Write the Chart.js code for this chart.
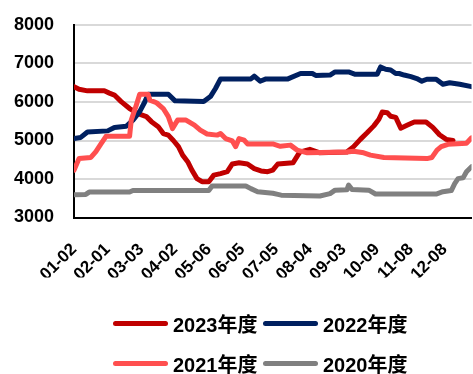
<!DOCTYPE html>
<html lang="zh">
<head>
    <meta charset="UTF-8">
    <title>年度价格对比</title>
    <style>
        body {
            margin: 0;
            background: white;
            font-family: "Liberation Sans", "Noto Sans CJK SC", sans-serif;
        }
        .wrap {
            position: relative;
            width: 473px;
            height: 374px;
        }
        .legend-item {
            position: absolute;
            height: 24px;
            display: flex;
            align-items: center;
            font-weight: bold;
            font-size: 20px;
            color: black;
            white-space: nowrap;
        }
        .legend-item span {
            display: inline-block;
            width: 55px;
            height: 5px;
            border-radius: 3px;
            margin-right: 5px;
        }
    </style>
    <script src="https://cdn.jsdelivr.net/npm/chart.js"></script>
</head>
<body>
    <div class="wrap">
        <canvas id="priceChart" width="473" height="374"></canvas>
        <div class="legend-item" style="left:113px; top:311px;"><span style="background:#C00000"></span>2023年度</div>
        <div class="legend-item" style="left:263px; top:311px;"><span style="background:#002060"></span>2022年度</div>
        <div class="legend-item" style="left:113px; top:351px;"><span style="background:#FF4F4F"></span>2021年度</div>
        <div class="legend-item" style="left:263px; top:351px;"><span style="background:#808080"></span>2020年度</div>
    </div>
    <script>
        // x = trading day of the year, labels every 20 trading days
        var tickLabels = ['01-02', '02-01', '03-03', '04-02', '05-06', '06-05',
                          '07-05', '08-04', '09-03', '10-09', '11-08', '12-08'];
        var tickDays = [0, 20, 40, 60, 80, 100, 120, 140, 160, 180, 200, 220];

        var y2023 = [[0, 6400], [3, 6330], [8, 6290], [18, 6290], [21, 6230], [24, 6180],
                     [28, 6010], [33, 5830], [38, 5700], [43, 5620], [46, 5490], [50, 5360],
                     [53, 5180], [56, 5140], [59, 5000], [62, 4840], [64.5, 4620], [67.5, 4450],
                     [70, 4230], [73, 4010], [76, 3930], [80, 3930], [83, 4100], [87, 4140],
                     [91, 4190], [94, 4390], [98, 4420], [103, 4390], [107, 4270], [111, 4210],
                     [115, 4190], [118, 4230], [121, 4390], [130, 4420], [134, 4700], [140, 4770],
                     [146, 4680], [162, 4700], [166, 4840], [170, 5030], [174, 5200], [178, 5380],
                     [181, 5550], [183, 5740], [186, 5720], [188, 5630], [191, 5600], [194, 5320],
                     [198, 5400], [202, 5480], [209, 5480], [213, 5340], [217, 5150], [221, 5030],
                     [225, 5000]];

        var y2022 = [[0, 5050], [4, 5080], [8, 5220], [20, 5250], [24, 5340], [31, 5370],
                     [35, 5530], [39, 5750], [42, 6000], [44, 6200], [56, 6200], [60, 6030],
                     [77, 6010], [81, 6140], [84, 6350], [87, 6600], [105, 6600], [107, 6670],
                     [110.5, 6540], [114, 6600], [127, 6600], [134.5, 6740], [141.5, 6740],
                     [143.5, 6690], [152, 6700], [155, 6780], [163, 6780], [167, 6720],
                     [180, 6720], [182, 6910], [185, 6850], [188, 6830], [191, 6740],
                     [193, 6740], [196, 6700], [200, 6660], [203.5, 6610], [206.5, 6540],
                     [209.5, 6590], [215, 6590], [219, 6460], [223, 6500], [229, 6460],
                     [236, 6400]];

        var y2021 = [[0, 4230], [3, 4530], [10, 4560], [13, 4710], [16, 4910], [19, 5110],
                     [33, 5110], [34, 5530], [37, 5920], [39, 6200], [44, 6200], [45, 6050],
                     [49, 5980], [53, 5830], [56, 5620], [58.5, 5310], [61.5, 5530], [66.5, 5530],
                     [71.5, 5400], [75, 5270], [79, 5170], [85, 5140], [87, 5180], [90, 5050],
                     [94, 4990], [96, 4840], [98, 5050], [101, 5010], [103, 4910], [118, 4910],
                     [122.5, 4850], [128.5, 4880], [132.5, 4750], [138.5, 4680], [162, 4700],
                     [166, 4720], [172, 4680], [176, 4620], [184, 4560], [209.5, 4530],
                     [212.5, 4560], [215.5, 4750], [218, 4840], [222, 4900], [233, 4930],
                     [236, 5070]];

        var y2020 = [[0, 3590], [7, 3600], [9, 3660], [33, 3660], [35, 3700], [80, 3700],
                     [82, 3820], [102, 3820], [105, 3750], [109, 3670], [118, 3630],
                     [121, 3600], [123, 3580], [146, 3560], [152, 3620], [155, 3710],
                     [162, 3720], [163, 3840], [165, 3730], [175, 3710], [179, 3610],
                     [215, 3610], [219, 3670], [224, 3700], [226, 3880], [228, 4010],
                     [231, 4030], [233, 4190], [236, 4320]];

        function toPoints(pairs) {
            return pairs.map(function (p) { return { x: p[0], y: p[1] }; });
        }

        function series(label, pairs, color, order) {
            return {
                label: label,
                data: toPoints(pairs),
                borderColor: color,
                backgroundColor: color,
                borderWidth: 5,
                borderJoinStyle: 'round',
                borderCapStyle: 'round',
                pointRadius: 0,
                tension: 0,
                order: order
            };
        }

        var config = {
            type: 'line',
            data: {
                datasets: [
                    series('2023年度', y2023, '#C00000', 4),
                    series('2022年度', y2022, '#002060', 3),
                    series('2021年度', y2021, '#FF4F4F', 2),
                    series('2020年度', y2020, '#808080', 1)
                ]
            },
            options: {
                responsive: false,
                animation: false,
                layout: { padding: { top: 25, right: 0, left: 0, bottom: 96.5 } },
                plugins: {
                    legend: { display: false },
                    tooltip: { enabled: false }
                },
                scales: {
                    x: {
                        type: 'linear',
                        min: 0,
                        max: 236,
                        grid: { display: false },
                        border: { color: '#000', width: 2 },
                        afterBuildTicks: function (axis) {
                            axis.ticks = tickDays.map(function (d) { return { value: d }; });
                        },
                        afterFit: function (axis) { axis.height = 60; },
                        ticks: {
                            autoSkip: false,
                            minRotation: 45,
                            maxRotation: 45,
                            padding: 14,
                            color: '#000',
                            font: { family: '"Liberation Sans", sans-serif', size: 17, weight: 'bold' },
                            callback: function (v) { return tickLabels[tickDays.indexOf(v)]; }
                        }
                    },
                    y: {
                        min: 3000,
                        max: 8000,
                        // invisible tick marks keep the labels clear of the axis
                        grid: { color: '#d9d9d9', lineWidth: 2, drawTicks: true, tickLength: 17, tickColor: 'rgba(0,0,0,0)' },
                        border: { color: '#000', width: 2 },
                        afterFit: function (axis) { axis.width = 74; },
                        ticks: {
                            stepSize: 1000,
                            padding: 3,
                            color: '#000',
                            font: { family: '"Liberation Sans", sans-serif', size: 18, weight: 'bold' },
                            callback: function (v) { return String(v); }
                        }
                    }
                }
            }
        };

        new Chart(document.getElementById('priceChart'), config);
    </script>
</body>
</html>
